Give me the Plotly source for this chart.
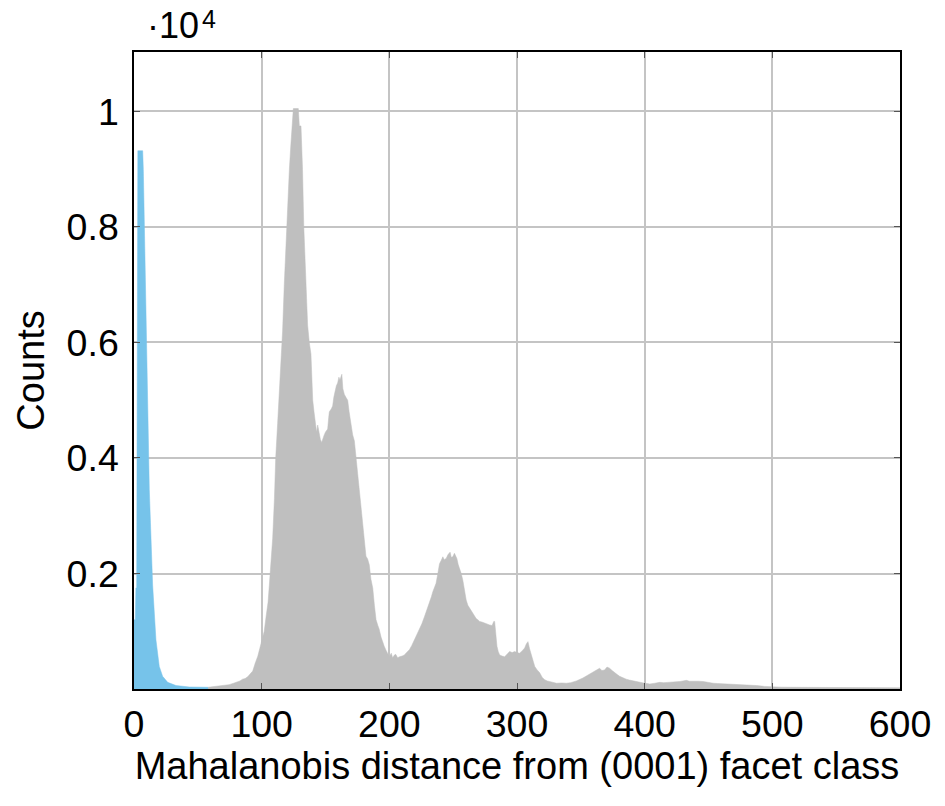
import plotly.graph_objects as go

# Blue class: (0001) facet class distances
blue_x = [0, 1, 1.5, 2.1, 3.0, 6.8, 7.3, 8.3, 9.4, 12, 14.6, 17.2, 19.8, 22.4, 26.4, 32.9, 43.3, 56.4, 58]
blue_y = [1200, 1200, 1750, 1750, 9320, 9320, 9000, 7780, 6000, 3450, 1800, 850, 390, 220, 115, 60, 35, 30, 30]

# Gray class: other facets
gray_x = [58, 62, 67, 71, 74.5, 78, 80, 83, 85, 87, 89, 91, 93, 95, 97, 98.5, 100.5, 102, 103.5, 105,
          106, 107.5, 108.6, 110, 111, 112.5, 113.8, 115, 116.4, 117.7, 119, 120.5, 121.7, 122.8, 123.8, 124.8,
          128.7, 129.5, 130.8, 132, 133, 134, 135, 136, 137.3, 138.6, 139.3, 140, 141, 142, 143, 143.9,
          145, 146, 147, 148, 149, 150, 151.7, 152.5, 153, 154.5, 155.6, 156.5, 157.7, 158.5, 159.5, 160.5,
          161.3, 162, 162.8, 163.6, 164.8, 166, 167.4, 168.5, 170, 171.3, 172.6, 174, 175.3, 176.5, 177.8,
          179, 180.4, 181.7, 183, 184.3, 185.6, 187, 188.3, 189.6, 191, 192, 193.5, 194.8, 196, 197.4, 199,
          200, 201.5, 202.6, 204, 205, 206.5, 208, 210, 211.8, 213.5, 215.7, 217.5, 219.6, 221.5, 223.6,
          225.5, 227.5, 229.5, 231.4, 233, 234, 235.3, 236.6, 238, 239.3, 240.5, 241.9, 243, 244.5, 246,
          247.6, 248.5, 249.7, 251, 252.9, 254, 255, 256.3, 257.6, 259, 260.2, 261.5, 262.8, 264, 265.4,
          266.7, 268, 269.3, 270.7, 272.5, 274.6, 276.5, 278.5, 280.5, 281.8, 282.5, 283.3, 284.3, 285.3,
          286.4, 288.3, 290.3, 292.2, 294.2, 296.2, 298.2, 300, 302, 304, 306, 307.3, 308.6, 309.8, 311,
          312.5, 313.9, 315.8, 317.8, 319.8, 321.7, 323.7, 325.7, 328, 331, 335, 338.7, 342, 346.5, 351.6,
          354, 356.8, 360.7, 362.5, 364.7, 366.5, 368.6, 370.5, 372.5, 374.5, 376.4, 378.5, 380.4, 383,
          385.6, 388, 390.8, 393, 396, 398, 400, 402, 404, 408, 411.8, 415, 419.6, 423, 427.5, 430, 432.7,
          435, 438, 442, 445.8, 450, 453.7, 457, 461.5, 466, 472, 476, 479.8, 484, 487.7, 494, 500, 507,
          513.9, 525, 540, 560, 579, 600]
gray_y = [30, 40, 46, 60, 75, 100, 115, 140, 170, 180, 210, 260, 310, 450, 570, 700, 850, 1000, 1260, 1500,
          1800, 2200, 2600, 3300, 4000, 4600, 5100, 5600, 6200, 7000, 7700, 8400, 9000, 9400, 9700, 10050,
          10050, 9750, 9750, 9000, 8000, 7300, 6700, 6300, 6000, 5800, 5400, 5000, 4800, 4600, 4450, 4570,
          4400, 4320, 4270, 4350, 4400, 4450, 4500, 4700, 4800, 4850, 4900, 5050, 5200, 5250, 5300, 5400,
          5350, 5400, 5450, 5200, 5100, 5050, 5000, 4800, 4570, 4400, 4300, 4000, 3700, 3500, 3200,
          2960, 2600, 2300, 2250, 2150, 1900, 1750, 1450, 1200, 1100, 1040, 900, 800, 740, 670, 600,
          560, 620, 540, 590, 600, 540, 560, 570, 590, 630, 680, 750, 850, 940, 1020,
          1130, 1250, 1370, 1480, 1600, 1680, 1750, 1830, 2000, 2170, 2220, 2290, 2240, 2260, 2330,
          2370, 2280, 2290, 2350, 2260, 2150, 2090, 2000, 1880, 1700, 1540, 1450, 1400, 1350, 1310,
          1260, 1220, 1200, 1170, 1160, 1140, 1120, 1110, 1100, 1170, 1170, 950, 740, 650,
          590, 570, 560, 600, 650, 630, 650, 630, 620, 660, 710, 780, 820, 700, 620,
          500, 390, 330, 280, 200, 160, 140, 130, 120, 100, 105, 100, 110, 140, 190,
          220, 250, 310, 330, 360, 320, 330, 380, 360, 320, 280, 250, 220, 190,
          170, 155, 140, 130, 120, 110, 100, 95, 87, 100, 115, 110, 115, 120, 130, 140, 150,
          135, 140, 135, 130, 110, 100, 95, 90, 92, 87, 78, 70, 65, 60, 45, 35, 32,
          30, 27, 23, 23, 23, 20]

x_ticks = [0, 100, 200, 300, 400, 500, 600]
y_ticks = [2000, 4000, 6000, 8000, 10000]
y_ticktext = ["0.2", "0.4", "0.6", "0.8", "1"]

fig = go.Figure()
fig.add_trace(go.Scatter(x=gray_x, y=gray_y, mode="lines", fill="tozeroy",
                         line=dict(color="#bfbfbf", width=0.5), fillcolor="#bfbfbf",
                         hoverinfo="skip", showlegend=False))
fig.add_trace(go.Scatter(x=blue_x, y=blue_y, mode="lines", fill="tozeroy",
                         line=dict(color="#76c3ea", width=0.5), fillcolor="#76c3ea",
                         hoverinfo="skip", showlegend=False))

font_family = "Liberation Sans, Arial, Helvetica, sans-serif"

fig.update_layout(
    width=945, height=806,
    margin=dict(l=126, r=53, t=44, b=125),
    paper_bgcolor="white", plot_bgcolor="white",
    font=dict(family=font_family, size=37, color="black"),
    xaxis=dict(range=[0, 600], tickvals=x_ticks, ticktext=[str(v) for v in x_ticks],
               showgrid=True, gridcolor="#c4c4c4", gridwidth=1.5,
               ticks="inside", ticklen=6, tickcolor="#555555", tickwidth=1,
               showline=True, linecolor="black", linewidth=1.5, mirror="ticks",
               zeroline=False, ticklabelstandoff=1,
               title=dict(text="Mahalanobis distance from (0001) facet class",
                          font=dict(size=38), standoff=8),
               tickfont=dict(size=37.5)),
    yaxis=dict(range=[0, 11030], tickvals=y_ticks, ticktext=y_ticktext,
               showgrid=True, gridcolor="#c4c4c4", gridwidth=1.5,
               ticks="inside", ticklen=6, tickcolor="#555555", tickwidth=1,
               showline=True, linecolor="black", linewidth=1.5, mirror="ticks",
               zeroline=False, ticklabelstandoff=6,
               title=dict(text="Counts", font=dict(size=38), standoff=10),
               tickfont=dict(size=37.5)),
)

# axis multiplier label "·10^4" (base and exponent as separate texts)
fig.add_annotation(text="·10", xref="paper", yref="paper",
                   x=0.016, y=1.0425, xanchor="left", yanchor="middle",
                   height=28, borderpad=0, valign="middle",
                   showarrow=False, font=dict(size=36, family=font_family))
fig.add_annotation(text="4", xref="paper", yref="paper",
                   x=0.088, y=1.052, xanchor="left", yanchor="middle",
                   height=18, borderpad=0, valign="middle",
                   showarrow=False, font=dict(size=25, family=font_family))

fig.write_html("out.html")
